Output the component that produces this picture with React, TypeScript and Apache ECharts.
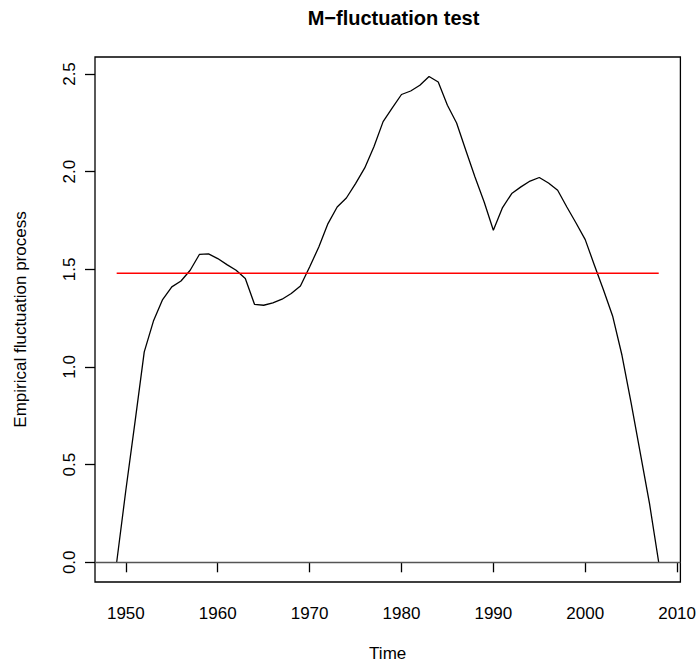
import React, { useEffect, useRef } from "react";
import * as echarts from "echarts";

const years: number[] = [];
for (let y = 1949; y <= 2008; y++) years.push(y);

const fluctuation: number[] = [
  0.0, 0.37, 0.72, 1.077, 1.235, 1.345, 1.41, 1.44, 1.495, 1.576,
  1.579, 1.555, 1.524, 1.495, 1.453, 1.321, 1.316, 1.328, 1.347, 1.376,
  1.415, 1.512, 1.614, 1.734, 1.819, 1.865, 1.939, 2.019, 2.127, 2.256,
  2.326, 2.395, 2.413, 2.442, 2.487, 2.459, 2.34, 2.249, 2.11, 1.973,
  1.845, 1.7, 1.816, 1.888, 1.922, 1.952, 1.97, 1.942, 1.905, 1.819,
  1.737, 1.652, 1.521, 1.393, 1.258, 1.06, 0.815, 0.558, 0.3, 0.0,
];

const boundary = 1.48;
const xTicks = [1950, 1960, 1970, 1980, 1990, 2000, 2010];
const yTicks = [0, 0.5, 1.0, 1.5, 2.0, 2.5];

const FONT = "'Liberation Sans', Arial, Helvetica, sans-serif";

export default function App() {
  const ref = useRef<HTMLDivElement>(null);
  useEffect(() => {
    if (!ref.current) return;
    const chart = echarts.init(ref.current, undefined, { renderer: "svg" });
    const lineData = years.map((y, i) => [y, fluctuation[i]]);
    chart.setOption({
      animation: false,
      backgroundColor: "#ffffff",
      textStyle: { fontFamily: FONT },
      title: {
        text: "M\u2212fluctuation test",
        left: 388.5,
        top: 3,
        textAlign: "center",
        textStyle: { fontFamily: FONT, fontSize: 20, fontWeight: "bold", color: "#000" },
      },
      grid: {
        left: 95,
        right: 17,
        top: 57,
        bottom: 86,
        show: true,
        borderColor: "#000",
        borderWidth: 1.3,
        backgroundColor: "transparent",
      },
      xAxis: {
        type: "value",
        min: 1946.64,
        max: 2010.36,
        name: "Time",
        nameLocation: "middle",
        nameGap: 63,
        nameTextStyle: { fontFamily: FONT, fontSize: 17, color: "#000" },
        axisLine: { show: false },
        splitLine: { show: false },
        axisTick: {
          show: true,
          length: 10,
          customValues: xTicks,
          lineStyle: { color: "#000", width: 1.3 },
        },
        axisLabel: {
          customValues: xTicks,
          margin: 23,
          fontFamily: FONT,
          fontSize: 17,
          color: "#000",
          formatter: (v: number) => String(v),
        },
      },
      yAxis: {
        type: "value",
        min: -0.1009,
        max: 2.587,
        name: "Empirical fluctuation process",
        nameLocation: "middle",
        nameRotate: 90,
        nameGap: 66,
        nameTextStyle: { fontFamily: FONT, fontSize: 17, color: "#000" },
        axisLine: { show: false },
        splitLine: { show: false },
        axisTick: {
          show: true,
          length: 10,
          customValues: yTicks,
          lineStyle: { color: "#000", width: 1.3 },
        },
        axisLabel: {
          customValues: yTicks,
          rotate: 90,
          margin: 17,
          fontFamily: FONT,
          fontSize: 17,
          color: "#000",
          formatter: (v: number) => v.toFixed(1),
        },
      },
      series: [
        {
          type: "line",
          data: lineData,
          symbol: "none",
          lineStyle: { color: "#000", width: 1.3 },
          markLine: {
            silent: true,
            symbol: "none",
            label: { show: false },
            lineStyle: { color: "#555", width: 1.3, type: "solid" },
            data: [{ yAxis: 0 }],
          },
        },
        {
          type: "line",
          data: [
            [years[0], boundary],
            [years[years.length - 1], boundary],
          ],
          symbol: "none",
          lineStyle: { color: "#ff0000", width: 1.4 },
        },
      ],
    });
    return () => chart.dispose();
  }, []);
  return (
    <div
      ref={ref}
      style={{ position: "fixed", left: 0, top: 0, width: 699, height: 668 }}
    />
  );
}
